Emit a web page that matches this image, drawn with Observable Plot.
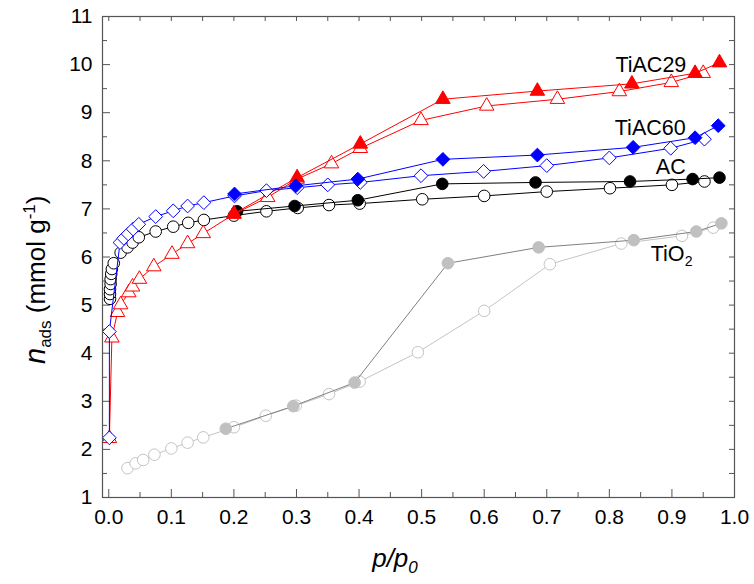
<!DOCTYPE html>
<html>
<head>
<meta charset="utf-8">
<script src="https://cdn.jsdelivr.net/npm/d3@7"></script>
<script src="https://cdn.jsdelivr.net/npm/@observablehq/plot@0.6"></script>
<style>
  body { margin: 0; background: #fff; }
  #chart { width: 754px; height: 584px; }
</style>
</head>
<body>
<div id="chart"></div>
<script>
// ---- data (p/p0, n_ads in mmol/g) ----
const tio2AdsX = [0.030, 0.043, 0.055, 0.073, 0.100, 0.126, 0.151, 0.200, 0.251, 0.299, 0.352, 0.401, 0.494, 0.600, 0.705, 0.819, 0.916, 0.966];
const tio2AdsY = [1.61, 1.71, 1.78, 1.89, 2.02, 2.14, 2.25, 2.46, 2.70, 2.91, 3.15, 3.41, 4.02, 4.88, 5.85, 6.28, 6.44, 6.61];
const tio2DesX = [0.979, 0.939, 0.839, 0.687, 0.542, 0.393, 0.295, 0.187];
const tio2DesY = [6.70, 6.53, 6.35, 6.20, 5.87, 3.39, 2.90, 2.43];

const acAdsX = [0.002, 0.002, 0.002, 0.003, 0.003, 0.004, 0.005, 0.008, 0.019, 0.030, 0.038, 0.048, 0.075, 0.103, 0.127, 0.152, 0.200, 0.252, 0.302, 0.352, 0.401, 0.501, 0.600, 0.700, 0.801, 0.900, 0.952];
const acAdsY = [5.13, 5.23, 5.33, 5.44, 5.54, 5.65, 5.75, 5.87, 6.09, 6.20, 6.30, 6.41, 6.53, 6.63, 6.71, 6.77, 6.86, 6.95, 7.02, 7.08, 7.11, 7.20, 7.27, 7.36, 7.43, 7.50, 7.57];
const acDesX = [0.976, 0.933, 0.833, 0.682, 0.533, 0.398, 0.297, 0.205];
const acDesY = [7.65, 7.62, 7.57, 7.55, 7.52, 7.18, 7.06, 6.95];

const tiac29AdsX = [0.001, 0.005, 0.014, 0.019, 0.032, 0.038, 0.049, 0.072, 0.101, 0.126, 0.151, 0.200, 0.254, 0.301, 0.356, 0.402, 0.499, 0.604, 0.717, 0.816, 0.899, 0.950];
const tiac29AdsY = [2.23, 4.32, 4.85, 5.01, 5.26, 5.38, 5.54, 5.80, 6.06, 6.28, 6.49, 6.89, 7.24, 7.62, 7.94, 8.26, 8.84, 9.14, 9.28, 9.44, 9.63, 9.82];
const tiac29DesX = [0.976, 0.937, 0.836, 0.685, 0.534, 0.402, 0.301, 0.200];
const tiac29DesY = [10.04, 9.82, 9.60, 9.45, 9.28, 8.35, 7.65, 6.90];

const tiac60AdsX = [0.001, 0.001, 0.018, 0.024, 0.031, 0.039, 0.048, 0.075, 0.103, 0.126, 0.152, 0.201, 0.252, 0.301, 0.350, 0.402, 0.499, 0.599, 0.700, 0.800, 0.898, 0.952];
const tiac60AdsY = [2.24, 4.45, 6.30, 6.39, 6.48, 6.58, 6.68, 6.84, 6.96, 7.06, 7.13, 7.27, 7.38, 7.44, 7.50, 7.55, 7.69, 7.78, 7.90, 8.06, 8.26, 8.45];
const tiac60DesX = [0.974, 0.937, 0.838, 0.685, 0.534, 0.398, 0.299, 0.201];
const tiac60DesY = [8.73, 8.48, 8.28, 8.12, 8.03, 7.62, 7.48, 7.31];

const xMajorTicks = [0, 0.1, 0.2, 0.3, 0.4, 0.5, 0.6, 0.7, 0.8, 0.9, 1.0];
const xMinorTicks = [0.05, 0.15, 0.25, 0.35, 0.45, 0.55, 0.65, 0.75, 0.85, 0.95];
const yMajorTicks = [1, 2, 3, 4, 5, 6, 7, 8, 9, 10, 11];
const yMinorTicks = [1.5, 2.5, 3.5, 4.5, 5.5, 6.5, 7.5, 8.5, 9.5, 10.5];

const seriesLabels = ["TiAC29", "TiAC60", "AC"];
const seriesLabelX = [0.923, 0.922, 0.922];
const seriesLabelY = [9.98, 8.67, 7.86];
const tio2LabelX = 0.866, tio2LabelY = 6.07;

// ---- build ----
const pts = (xs, ys) => xs.map((x, i) => ({x, y: ys[i]}));
const W = 754, H = 584, mL = 102, mR = 20, mT = 16, mB = 87;
const innerW = W - mL - mR, innerH = H - mT - mB;
const axisColor = "#555";
const font = "'Liberation Sans', Arial, Helvetica, sans-serif";

function series(xs, ys, {stroke, lineStroke, symbol, r, fill}) {
  const d = pts(xs, ys);
  return [
    Plot.line(d, {x: "x", y: "y", stroke: lineStroke || stroke, strokeWidth: 1}),
    Plot.dot(d, {x: "x", y: "y", symbol, r, fill, stroke, strokeWidth: 1})
  ];
}

const plot = Plot.plot({
  width: W, height: H,
  marginLeft: mL, marginRight: mR, marginTop: mT, marginBottom: mB,
  style: {fontFamily: font, fontSize: "21px", background: "white", color: "black"},
  x: {domain: [-0.01, 1.0], ticks: xMajorTicks, tickSize: 0, tickPadding: 12, tickFormat: d => d.toFixed(1), label: null},
  y: {domain: [1, 11], ticks: yMajorTicks, tickSize: 0, tickPadding: 10, tickFormat: d => String(d), label: null},
  marks: [
    // inward ticks
    Plot.tickX(xMajorTicks, {x: d => d, insetTop: innerH - 8, stroke: axisColor}),
    Plot.tickX(xMinorTicks, {x: d => d, insetTop: innerH - 5, stroke: axisColor}),
    Plot.tickX(xMajorTicks, {x: d => d, insetBottom: innerH - 5, stroke: axisColor}),
    Plot.tickX(xMinorTicks, {x: d => d, insetBottom: innerH - 5, stroke: axisColor}),
    Plot.tickY(yMajorTicks, {y: d => d, insetRight: innerW - 8, stroke: axisColor}),
    Plot.tickY(yMinorTicks, {y: d => d, insetRight: innerW - 5, stroke: axisColor}),
    Plot.tickY(yMajorTicks, {y: d => d, insetLeft: innerW - 5, stroke: axisColor}),
    Plot.tickY(yMinorTicks, {y: d => d, insetLeft: innerW - 5, stroke: axisColor}),
    // TiO2
    ...series(tio2AdsX, tio2AdsY, {stroke: "#c4c4c4", symbol: "circle", r: 5.8, fill: "white"}),
    ...series(tio2DesX, tio2DesY, {stroke: "#c0c0c0", lineStroke: "#808080", symbol: "circle", r: 5.8, fill: "#c0c0c0"}),
    // AC
    ...series(acAdsX, acAdsY, {stroke: "black", symbol: "circle", r: 5.8, fill: "white"}),
    ...series(acDesX, acDesY, {stroke: "black", symbol: "circle", r: 5.8, fill: "black"}),
    // TiAC29
    ...series(tiac29AdsX, tiac29AdsY, {stroke: "#ff0000", symbol: "triangle", r: 5.4, fill: "white"}),
    ...series(tiac29DesX, tiac29DesY, {stroke: "#ff0000", symbol: "triangle", r: 5.4, fill: "#ff0000"}),
    // TiAC60
    ...series(tiac60AdsX, tiac60AdsY, {stroke: "#0000ff", symbol: "diamond2", r: 6.2, fill: "white"}),
    ...series(tiac60DesX, tiac60DesY, {stroke: "#0000ff", symbol: "diamond2", r: 6.2, fill: "#0000ff"}),
    // series labels
    Plot.text(seriesLabels, {x: (d, i) => seriesLabelX[i], y: (d, i) => seriesLabelY[i], text: d => d, textAnchor: "end", fontSize: 21.5, fill: "black"}),
    Plot.text(["TiO"], {x: () => tio2LabelX, y: () => tio2LabelY, text: d => d, textAnchor: "start", fontSize: 21.5, fill: "black"}),
    Plot.text(["2"], {x: () => tio2LabelX, y: () => tio2LabelY, text: d => d, textAnchor: "start", fontSize: 14, dx: 34, dy: 8, fill: "black"}),
    Plot.frame({stroke: axisColor, strokeWidth: 1.2})
  ]
});

document.getElementById("chart").appendChild(plot);

const svg = d3.select(plot);
// make sure tick labels use the intended size/font
svg.selectAll('[aria-label^="x-axis"] text, [aria-label^="y-axis"] text')
  .attr("font-size", 21).attr("font-family", font).attr("fill", "black");

// y-axis title: n_ads (mmol g^-1)
const yl = svg.append("text")
  .attr("transform", "translate(45,364) rotate(-90)")
  .attr("font-family", font).attr("font-size", 26).attr("fill", "black")
  .attr("text-anchor", "start");
yl.append("tspan").attr("font-style", "italic").attr("font-size", 29).text("n");
yl.append("tspan").attr("font-size", 17).attr("dy", 6).text("ads");
yl.append("tspan").attr("dy", -6).text(" (mmol g");
yl.append("tspan").attr("font-size", 17).attr("dy", -10).text("-1");
yl.append("tspan").attr("dy", 10).text(")");

// x-axis title: p/p0
const xl = svg.append("text")
  .attr("x", 395).attr("y", 567)
  .attr("font-family", font).attr("font-size", 26).attr("fill", "black")
  .attr("font-style", "italic");
xl.append("tspan").text("p/p");
xl.append("tspan").attr("font-size", 17).attr("dy", 6).text("0");
</script>
</body>
</html>
